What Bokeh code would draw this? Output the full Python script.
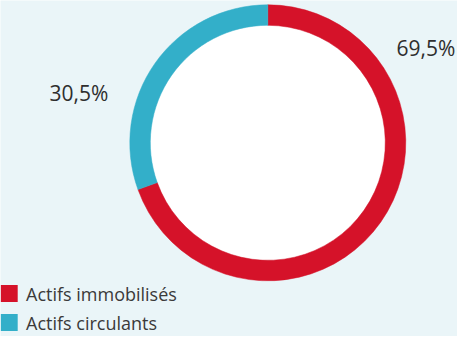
import math
from bokeh.plotting import figure
from bokeh.models import Range1d
from bokeh.core.properties import value
from bokeh.embed import file_html
from bokeh.resources import INLINE

# ---- data ----
categories = ["Actifs immobilisés", "Actifs circulants"]
shares = [69.5, 30.5]
labels = ["69,5%", "30,5%"]
colors = ["#D51229", "#33AFC9"]

# ---- layout (pixel space of the figure) ----
W, H = 457, 336
BG = "#EAF5F8"
cx, cy = 267.3, 193.7
r_out, r_in = 138, 117.5
label_pos = [(396, 289), (49, 244)]
legend_x, legend_text_x = 8.7, 25.5
legend_y = [43, 14]

p = figure(width=W, height=H, output_backend="svg", toolbar_location=None,
           x_range=Range1d(0, W), y_range=Range1d(0, H), min_border=0,
           background_fill_color=BG, border_fill_color=BG, outline_line_color=None)
p.axis.visible = False
p.grid.visible = False

total = sum(shares)
start = math.pi / 2
starts, ends = [], []
for s in shares:
    a = s / total * 2 * math.pi
    starts.append(start)
    ends.append(start - a)
    start -= a

p.circle(x=[cx], y=[cy], radius=r_in, radius_units="screen",
         fill_color="white", line_color=None)
p.annular_wedge(x=[cx] * len(shares), y=[cy] * len(shares),
                inner_radius=r_in, outer_radius=r_out,
                inner_radius_units="screen", outer_radius_units="screen",
                start_angle=starts, end_angle=ends, direction="clock",
                fill_color=colors, line_color=colors, line_width=0.5)

p.text(x=[q[0] for q in label_pos], y=[q[1] for q in label_pos], text=labels,
       text_font=value("Open Sans"), text_font_size="21px", text_color="#2E2E2E",
       text_align="left", text_baseline="middle")

p.rect(x=[legend_x] * len(categories), y=legend_y, width=17, height=17,
       width_units="screen", height_units="screen",
       fill_color=colors, line_color=None)
p.text(x=[legend_text_x] * len(categories), y=legend_y, text=categories,
       text_font=value("Open Sans"), text_font_size="18px", text_color="#3A3A3A",
       text_align="left", text_baseline="middle")

open("out.html", "w").write(file_html(p, INLINE))
